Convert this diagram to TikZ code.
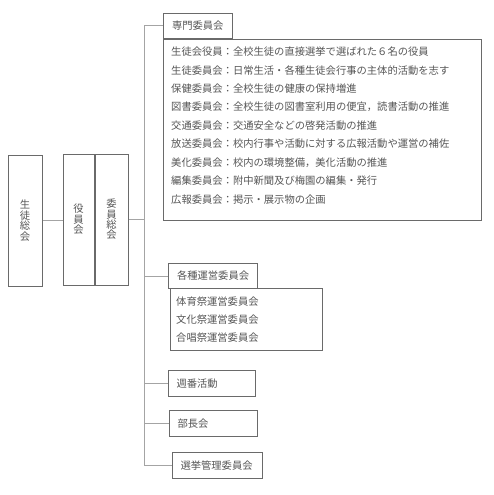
\documentclass[tikz,border=0pt]{standalone}
\usepackage{fontspec}
\newfontfamily\jpfont{Noto Sans CJK JP}
\usepackage{tikz}
\usetikzlibrary{positioning}
\definecolor{edgec}{HTML}{6A6A6A}
\definecolor{linkc}{HTML}{A4A4A4}
\definecolor{ink}{HTML}{555555}
\tikzset{font=\jpfont\fontsize{10.3}{10.4}\selectfont}
\tikzset{
  orgbox/.style={draw=edgec, line width=1pt, rectangle, inner sep=0pt, text=ink},
  tabbox/.style={orgbox, minimum height=25, inner xsep=8.5},
  plainbox/.style={orgbox, minimum height=26, inner xsep=8, align=left},
  itemtext/.style={inner sep=0pt, text=ink, anchor=west},
  link/.style={draw=linkc, line width=1pt}
}

\begin{document}
\begin{tikzpicture}[x=1pt, y=-1pt]
  \useasboundingbox (0,0) rectangle (493,495);
  % left side
  \node[orgbox, align=center, minimum width=34, minimum height=131] (sokai) at (25,220.5) {生\\徒\\総\\会};
  \node[orgbox, align=center, minimum width=31, minimum height=131] (yakuin) at (78.5,219.5) {役\\員\\会};
  \node[orgbox, align=center, minimum width=33, minimum height=131, anchor=west] (iinso) at (yakuin.east) {委\\員\\総\\会};
  % committees
  \node[tabbox, anchor=north west] (senmon) at (163,13) {専門委員会};
  \node[orgbox, anchor=north west, minimum width=318, minimum height=181] (senmonlist) at (senmon.south west) {};
  \foreach \t [count=\i from 0] in {生徒会役員：全校生徒の直接選挙で選ばれた６名の役員,
      生徒委員会：日常生活・各種生徒会行事の主体的活動を志す,
      保健委員会：全校生徒の健康の保持増進,
      図書委員会：全校生徒の図書室利用の便宜，読書活動の推進,
      交通委員会：交通安全などの啓発活動の推進,
      放送委員会：校内行事や活動に対する広報活動や運営の補佐,
      美化委員会：校内の環境整備，美化活動の推進,
      編集委員会：附中新聞及び梅園の編集・発行,
      広報委員会：掲示・展示物の企画}
    \node[itemtext] (senmon\i) at (171,52+18.4*\i) {\t};
  \node[tabbox, anchor=north west] (kakushu) at (168,263) {各種運営委員会};
  \node[orgbox, anchor=north west, minimum width=152, minimum height=62] (kakushulist) at (170,288) {};
  \foreach \t [count=\i from 0] in {体育祭運営委員会, 文化祭運営委員会, 合唱祭運営委員会}
    \node[itemtext] (kakushu\i) at (176,302+18*\i) {\t};
  \node[plainbox, text width=71, anchor=north west] (shuban) at (168,370) {週番活動};
  \node[plainbox, text width=72, anchor=north west] (buchou) at (169,410) {部長会};
  \node[plainbox, text width=74, anchor=north west] (senkyo) at (172,452) {選挙管理委員会};
  % connectors
  \coordinate (trunk) at (144,0);
  \draw[link] (sokai.east) -- (sokai.east -| yakuin.west);
  \draw[link] (iinso.east) -- (iinso.east -| trunk);
  \draw[link] (senmon.west -| trunk) |- (senkyo.west);
  \foreach \br in {senmon, kakushu, shuban, buchou}
    \draw[link] (\br.west -| trunk) -- (\br.west);
\end{tikzpicture}
\end{document}
